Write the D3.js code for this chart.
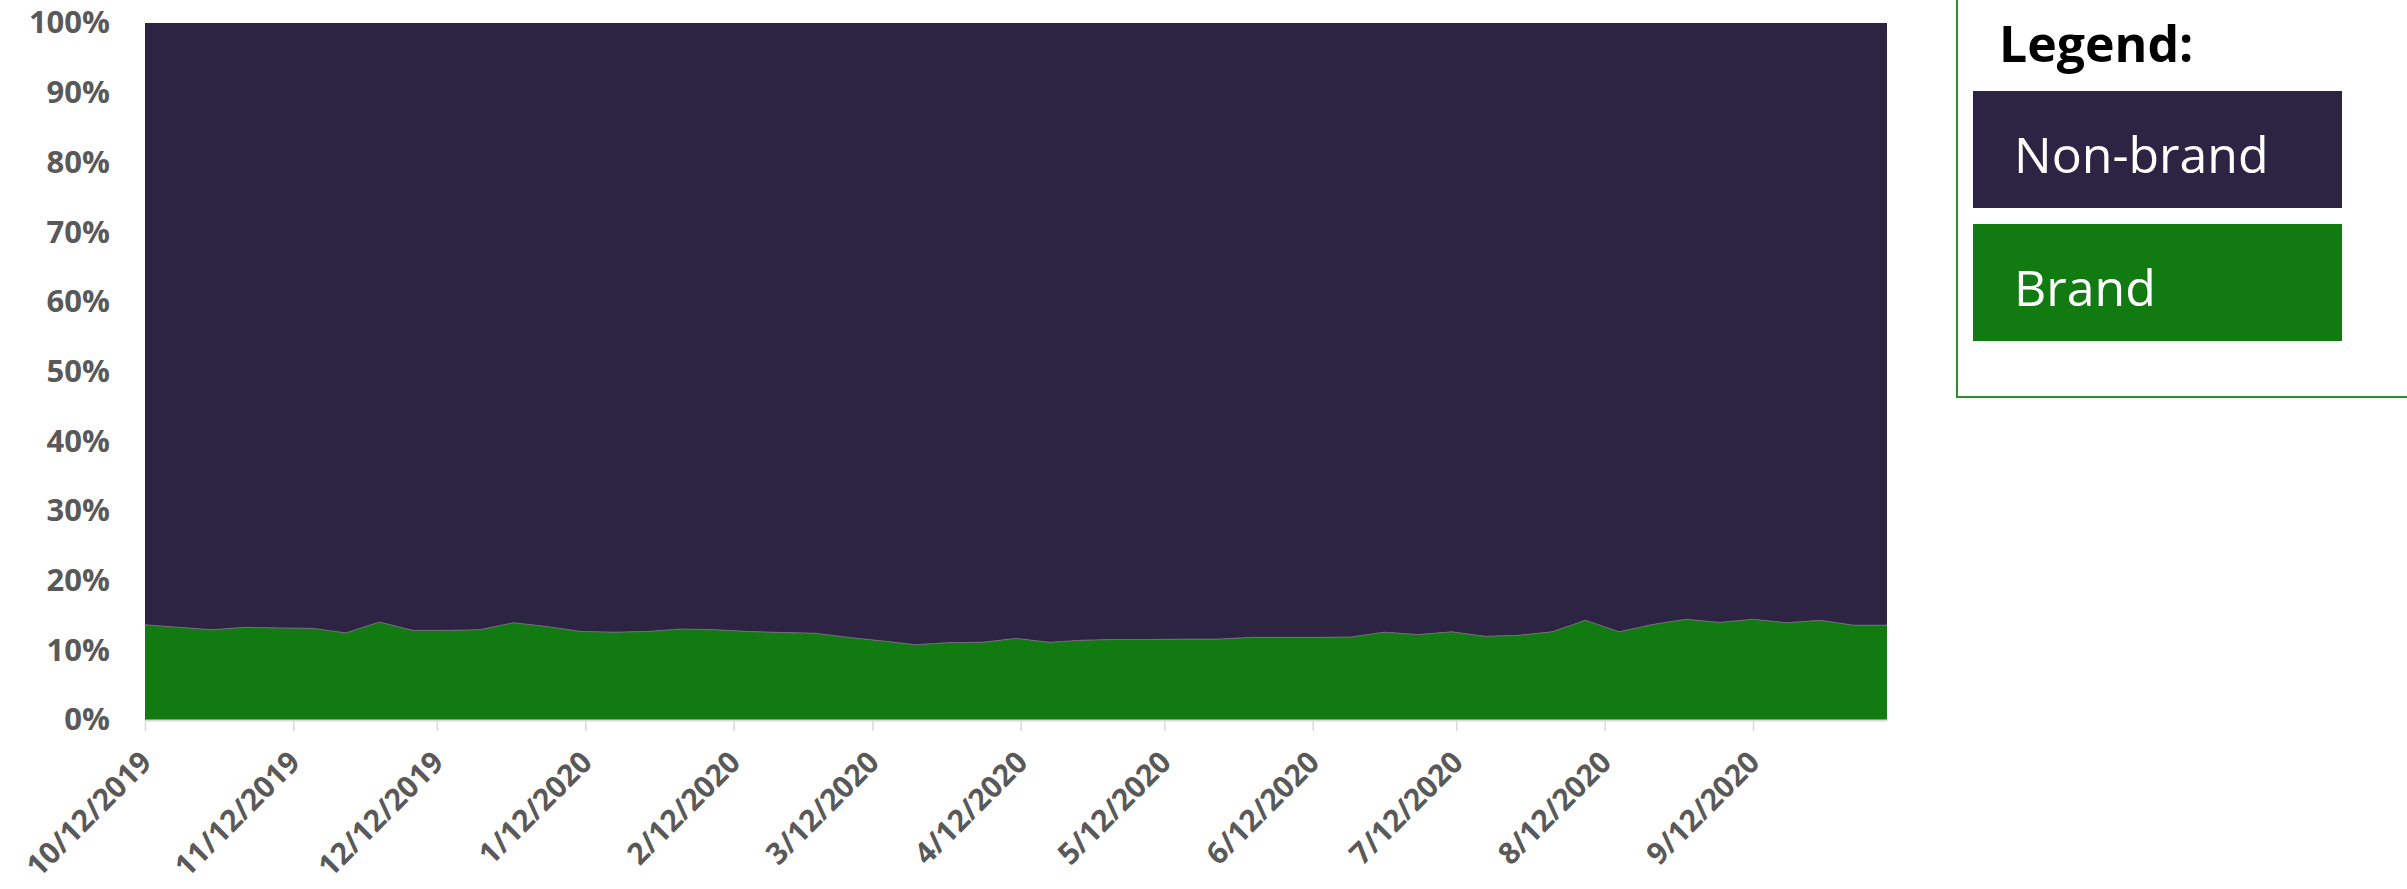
<!DOCTYPE html>
<html>
<head>
<meta charset="utf-8">
<script src="https://cdn.jsdelivr.net/npm/d3@7/dist/d3.min.js"></script>
<style>
  html, body { margin: 0; padding: 0; background: #ffffff; overflow: hidden; }
  svg { display: block; }
</style>
</head>
<body>
<svg id="chart" width="2407" height="889"></svg>
<script>
// Weekly share of search clicks, brand vs. non-brand (percent of total)
const weeks = [
  "2019-10-12","2019-10-19","2019-10-26","2019-11-02","2019-11-09","2019-11-16","2019-11-23","2019-11-30",
  "2019-12-07","2019-12-14","2019-12-21","2019-12-28","2020-01-04","2020-01-11","2020-01-18","2020-01-25",
  "2020-02-01","2020-02-08","2020-02-15","2020-02-22","2020-02-29","2020-03-07","2020-03-14","2020-03-21",
  "2020-03-28","2020-04-04","2020-04-11","2020-04-18","2020-04-25","2020-05-02","2020-05-09","2020-05-16",
  "2020-05-23","2020-05-30","2020-06-06","2020-06-13","2020-06-20","2020-06-27","2020-07-04","2020-07-11",
  "2020-07-18","2020-07-25","2020-08-01","2020-08-08","2020-08-15","2020-08-22","2020-08-29","2020-09-05",
  "2020-09-12","2020-09-19","2020-09-26","2020-10-03","2020-10-10"
];

const brand = [
  13.65, 13.3, 12.95, 13.3, 13.2, 13.15, 12.5, 14.05, 12.85, 12.85, 12.95, 13.95, 13.4, 12.7, 12.6, 12.7,
  13.05, 12.95, 12.7, 12.55, 12.45, 11.85, 11.35, 10.8, 11.1, 11.15, 11.7, 11.15, 11.45, 11.55, 11.55, 11.6,
  11.6, 11.85, 11.85, 11.85, 11.9, 12.6, 12.25, 12.65, 12.0, 12.15, 12.65, 14.3, 12.65, 13.7, 14.45, 14.0,
  14.45, 13.95, 14.3, 13.6, 13.6
];

const nonBrand = [
  86.35, 86.7, 87.05, 86.7, 86.8, 86.85, 87.5, 85.95, 87.15, 87.15, 87.05, 86.05, 86.6, 87.3, 87.4, 87.3,
  86.95, 87.05, 87.3, 87.45, 87.55, 88.15, 88.65, 89.2, 88.9, 88.85, 88.3, 88.85, 88.55, 88.45, 88.45, 88.4,
  88.4, 88.15, 88.15, 88.15, 88.1, 87.4, 87.75, 87.35, 88.0, 87.85, 87.35, 85.7, 87.35, 86.3, 85.55, 86.0,
  85.55, 86.05, 85.7, 86.4, 86.4
];

const seriesNames = ["Brand", "Non-brand"];
const seriesColors = ["#117a11", "#2d2443"];
const legendOrder = ["Non-brand", "Brand"];
const xTickDates = [
  "2019-10-12","2019-11-12","2019-12-12","2020-01-12","2020-02-12","2020-03-12",
  "2020-04-12","2020-05-12","2020-06-12","2020-07-12","2020-08-12","2020-09-12"
];
const yTicks = [0, 0.1, 0.2, 0.3, 0.4, 0.5, 0.6, 0.7, 0.8, 0.9, 1.0];

// Layout
const plot = { left: 145, right: 1887, top: 23, bottom: 720 };
const parse = d3.utcParse("%Y-%m-%d");
const fmtTick = d3.utcFormat("%-m/%-d/%Y");

const rows = weeks.map((w, i) => ({ date: parse(w), Brand: brand[i], "Non-brand": nonBrand[i] }));

const x = d3.scaleUtc()
  .domain(d3.extent(rows, d => d.date))
  .range([plot.left, plot.right]);

const y = d3.scaleLinear()
  .domain([0, 1])
  .range([plot.bottom, plot.top]);

const color = d3.scaleOrdinal().domain(seriesNames).range(seriesColors);

const stacked = d3.stack()
  .keys(seriesNames)
  .offset(d3.stackOffsetExpand)(rows);

const svg = d3.select("#chart");
const labelFont = "'Open Sans', 'Noto Sans', 'DejaVu Sans', sans-serif";

// Stacked areas
const area = d3.area()
  .x(d => x(d.data.date))
  .y0(d => y(d[0]))
  .y1(d => y(d[1]));

svg.append("g")
  .selectAll("path")
  .data(stacked)
  .join("path")
  .attr("fill", s => color(s.key))
  .attr("d", area);

// Thin seam between the two bands
const seam = d3.line()
  .x(d => x(d.data.date))
  .y(d => y(d[1]));
svg.append("path")
  .datum(stacked[0])
  .attr("fill", "none")
  .attr("stroke", "#6f6a78")
  .attr("stroke-width", 1)
  .attr("d", seam);

// X axis
const xAxis = d3.axisBottom(x)
  .tickValues(xTickDates.map(parse))
  .tickFormat(fmtTick)
  .tickSize(11)
  .tickSizeOuter(0);

const gx = svg.append("g")
  .attr("transform", `translate(0,${plot.bottom})`)
  .call(xAxis);
gx.select(".domain").attr("stroke", "#d9d9d9").attr("stroke-width", 2);
gx.selectAll(".tick line").attr("stroke", "#d9d9d9").attr("stroke-width", 1.5);
gx.selectAll(".tick text")
  .attr("font-family", labelFont)
  .attr("font-weight", "bold")
  .attr("font-size", 30)
  .attr("fill", "#595959")
  .attr("text-anchor", "end")
  .attr("dy", 0)
  .attr("y", 0)
  .attr("transform", "translate(8,44) rotate(-45)");

// Y axis (labels only)
const yAxis = d3.axisLeft(y)
  .tickValues(yTicks)
  .tickFormat(d3.format(".0%"))
  .tickSize(0)
  .tickPadding(35);

const gy = svg.append("g")
  .attr("transform", `translate(${plot.left},0)`)
  .call(yAxis);
gy.select(".domain").remove();
gy.selectAll(".tick text")
  .attr("font-family", labelFont)
  .attr("font-weight", "bold")
  .attr("font-size", 31)
  .attr("fill", "#595959");

// Legend panel
const legend = svg.append("g").attr("transform", "translate(1957,0)");
legend.append("rect")
  .attr("x", 0).attr("y", -20)
  .attr("width", 520).attr("height", 417)
  .attr("fill", "#ffffff")
  .attr("stroke", "#2f8f2f")
  .attr("stroke-width", 2);

legend.append("text")
  .attr("x", 42).attr("y", 62)
  .attr("font-family", labelFont)
  .attr("font-weight", "bold")
  .attr("font-size", 50)
  .attr("fill", "#000000")
  .text("Legend:");

const items = legend.selectAll("g.item")
  .data(legendOrder)
  .join("g")
  .attr("class", "item")
  .attr("transform", (d, i) => `translate(16,${91 + i * 133})`);

items.append("rect")
  .attr("width", 369).attr("height", 117)
  .attr("fill", d => color(d));

items.append("text")
  .attr("x", 41).attr("y", 82)
  .attr("font-family", labelFont)
  .attr("font-size", 50)
  .attr("fill", "#ffffff")
  .text(d => d);
</script>
</body>
</html>
